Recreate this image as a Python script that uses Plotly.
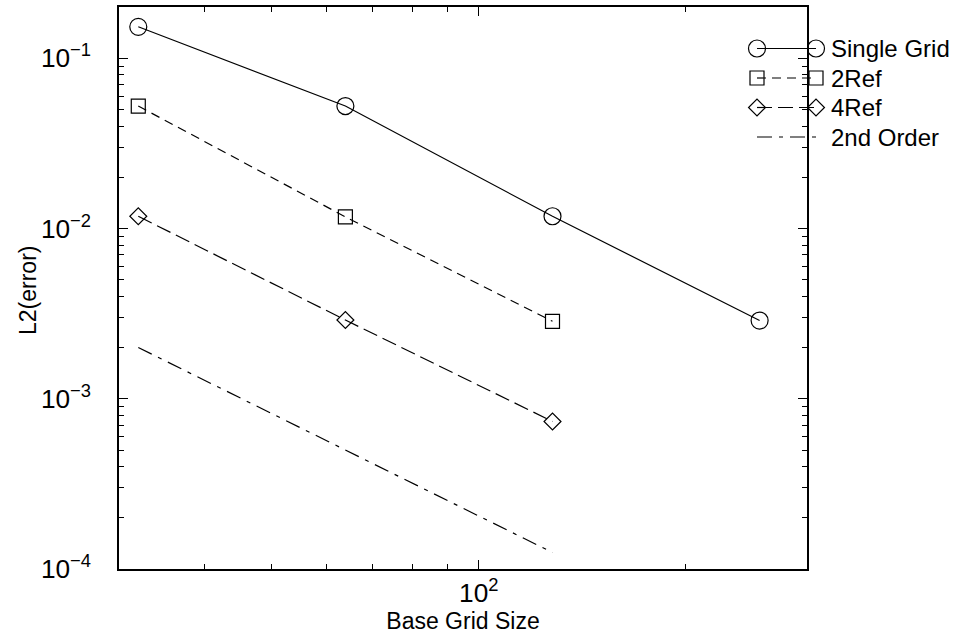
import math
import plotly.graph_objects as go

# ---- data ----
grid_sizes = [32, 64, 128, 256]
single_grid = [0.153, 0.0524, 0.0118, 0.00288]
ref2_sizes = [32, 64, 128]
ref2 = [0.0524, 0.0117, 0.00285]
ref4_sizes = [32, 64, 128]
ref4 = [0.0118, 0.0029, 0.000735]
order2_sizes = [32, 64, 128]
order2 = [0.002, 0.0005, 0.000125]

series_names = ["Single Grid", "2Ref", "4Ref", "2nd Order"]
x_title = "Base Grid Size"
y_title = "L2(error)"

# ---- styles ----
W, H = 968, 639
PLOT_L, PLOT_R, PLOT_T, PLOT_B = 119, 807, 7, 569
FONT = "Liberation Sans, Arial, Helvetica, sans-serif"
styles = [
    dict(dash="solid", symbol="circle-open", size=17),
    dict(dash="9px,6px", symbol="square-open", size=14),
    dict(dash="15px,6px", symbol="diamond-open", size=13),
    dict(dash="15px,7px,4px,7px", symbol=None, size=0),
]
LEG = dict(x0=757, x1=816, xtext=829, y0=48.5, dy=29.5)
YTITLE_POS = dict(x=28, y=291)

fig = go.Figure()

xs_list = [grid_sizes, ref2_sizes, ref4_sizes, order2_sizes]
ys_list = [single_grid, ref2, ref4, order2]
for name, xs, ys, st in zip(series_names, xs_list, ys_list, styles):
    mode = "lines+markers" if st["symbol"] else "lines"
    fig.add_trace(go.Scatter(
        x=xs, y=ys, name=name, mode=mode,
        line=dict(color="black", width=1.2, dash=st["dash"]),
        marker=dict(symbol=st["symbol"] or "circle", size=st["size"],
                    color="black", line=dict(width=1.2, color="black")),
        cliponaxis=False, showlegend=False, xaxis="x", yaxis="y",
    ))

# custom legend drawn on a full-canvas overlay axis
for i, (name, st) in enumerate(zip(series_names, styles)):
    yy = LEG["y0"] + i * LEG["dy"]
    mode = "lines+markers" if st["symbol"] else "lines"
    fig.add_trace(go.Scatter(
        x=[LEG["x0"], LEG["x1"]], y=[yy, yy], mode=mode,
        line=dict(color="black", width=1.2, dash=st["dash"]),
        marker=dict(symbol=st["symbol"] or "circle", size=st["size"],
                    color="black", line=dict(width=1.2, color="black")),
        showlegend=False, hoverinfo="skip", xaxis="x2", yaxis="y2",
    ))
    fig.add_annotation(x=LEG["xtext"], y=yy, xref="x2", yref="y2",
                       text=name, showarrow=False, xanchor="left",
                       yanchor="middle", font=dict(size=24, color="black", family=FONT))

# y-axis title
fig.add_annotation(x=YTITLE_POS["x"], y=YTITLE_POS["y"], xref="x2", yref="y2",
                   text=y_title, showarrow=False, textangle=-90,
                   xanchor="center", yanchor="middle",
                   font=dict(size=23, color="black", family=FONT))

axis_common = dict(
    type="log", showgrid=False, zeroline=False,
    showline=True, linecolor="black", linewidth=1.5, mirror="allticks",
    ticks="inside", ticklen=9, tickwidth=1, tickcolor="black",
    dtick=1, exponentformat="power",
    tickfont=dict(size=21, color="black", family=FONT),
    minor=dict(ticks="inside", ticklen=5, tickwidth=1, tickcolor="black",
               dtick="D1", showgrid=False),
    automargin=False,
)

fig.update_layout(
    width=W, height=H,
    margin=dict(l=0, r=0, t=0, b=0),
    paper_bgcolor="white", plot_bgcolor="rgba(0,0,0,0)",
    font=dict(family=FONT, color="black"),
    showlegend=False,
    xaxis=dict(**axis_common,
               domain=[PLOT_L / W, PLOT_R / W],
               range=[math.log10(30), math.log10(300)],
               anchor="y", ticklabelstandoff=1,
               title=dict(text=x_title, font=dict(size=23, family=FONT), standoff=6)),
    yaxis=dict(**axis_common,
               domain=[1 - PLOT_B / H, 1 - PLOT_T / H],
               range=[-4, math.log10(0.2)],
               anchor="x", ticklabelstandoff=22),
    xaxis2=dict(domain=[0, 1], range=[0, W], visible=False, anchor="y2", fixedrange=True),
    yaxis2=dict(domain=[0, 1], range=[H, 0], visible=False, anchor="x2", fixedrange=True),
)

fig.write_html("out.html", config={"displayModeBar": False},
               post_script="document.body.style.margin='0';document.body.style.overflow='hidden';")
